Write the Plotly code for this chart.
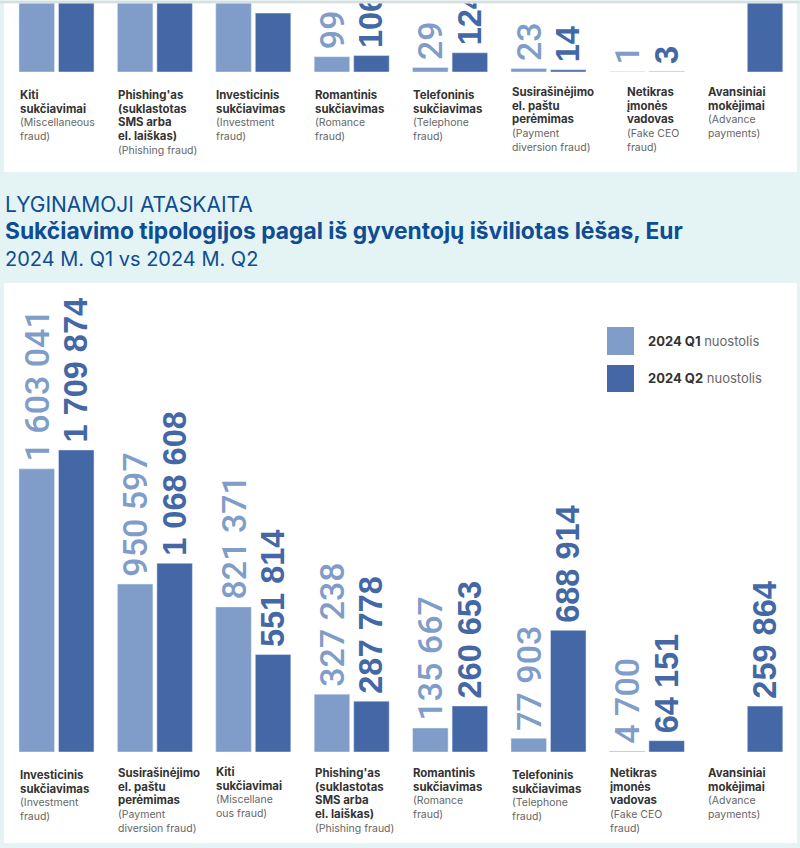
import plotly.graph_objects as go

# top panel (cropped at the top in the source picture, Q1/Q2 counts)
top_names = ["Kiti<br>sukčiavimai", "Phishing'as<br>(suklastotas<br>SMS arba<br>el. laiškas)", "Investicinis<br>sukčiavimas",
             "Romantinis<br>sukčiavimas", "Telefoninis<br>sukčiavimas", "Susirašinėjimo<br>el. paštu<br>perėmimas",
             "Netikras<br>įmonės<br>vadovas", "Avansiniai<br>mokėjimai"]
top_en = ["(Miscellaneous<br>fraud)", "(Phishing fraud)", "(Investment<br>fraud)", "(Romance<br>fraud)",
          "(Telephone<br>fraud)", "(Payment<br>diversion fraud)", "(Fake CEO<br>fraud)", "(Advance<br>payments)"]
top_q1 = [620, 560, 500, 99, 29, 23, 1, None]
top_q2 = [590, 540, 380, 106, 124, 14, 3, 470]
# labels of the tallest top bars are cropped away in the source
TOP_LABEL_LIMIT = 300

# bottom panel, Eur
bot_names = ["Investicinis<br>sukčiavimas", "Susirašinėjimo<br>el. paštu<br>perėmimas", "Kiti<br>sukčiavimai",
             "Phishing'as<br>(suklastotas<br>SMS arba<br>el. laiškas)", "Romantinis<br>sukčiavimas", "Telefoninis<br>sukčiavimas",
             "Netikras<br>įmonės<br>vadovas", "Avansiniai<br>mokėjimai"]
bot_en = ["(Investment<br>fraud)", "(Payment<br>diversion fraud)", "(Miscellane<br>ous fraud)", "(Phishing fraud)",
          "(Romance<br>fraud)", "(Telephone<br>fraud)", "(Fake CEO<br>fraud)", "(Advance<br>payments)"]
bot_q1 = [1603041, 950597, 821371, 327238, 135667, 77903, 4700, None]
bot_q2 = [1709874, 1068608, 551814, 287778, 260653, 688914, 64151, 259864]

series_names = ["2024 Q1", "2024 Q2"]

Q1_COLOR = "#7F9DC8"
Q2_COLOR = "#4467A5"
TEAL = "#E4F4F5"
TITLE_BLUE = "#0F4C92"
W, H = 800, 848
# transparent dot before each number: rotated text starts at the bar, this keeps it a bit off
LABEL_PAD = '<span style="font-size:16px;color:rgba(0,0,0,0)">.</span>'


def py(px):
    return 1 - px / H


def fmt(values, limit=None):
    out = []
    for v in values:
        if v is None or (limit is not None and v > limit):
            out.append("")
        else:
            out.append(LABEL_PAD + f"{v:,}".replace(",", " "))
    return out


fig = go.Figure()
for names, q1, q2, xa, ya, limit in [(top_names, top_q1, top_q2, "x", "y", TOP_LABEL_LIMIT), (bot_names, bot_q1, bot_q2, "x2", "y2", None)]:
    fig.add_bar(x=names, y=q1, name=series_names[0], xaxis=xa, yaxis=ya, marker_color=Q1_COLOR,
                text=fmt(q1, limit), textposition="outside", textangle=-90, constraintext="none", cliponaxis=True,
                textfont=dict(family="Roboto", size=34, color=Q1_COLOR, weight=500), offsetgroup="q1")
    fig.add_bar(x=names, y=q2, name=series_names[1], xaxis=xa, yaxis=ya, marker_color=Q2_COLOR,
                text=fmt(q2, limit), textposition="outside", textangle=-90, constraintext="none", cliponaxis=True,
                textfont=dict(family="Liberation Sans", size=32.5, color=Q2_COLOR, weight="bold"), offsetgroup="q2")

x_range = [-56.5 / 98.4, (W - 56.5) / 98.4]
common_x = dict(range=x_range, type="category", showticklabels=False, showgrid=False, zeroline=False, showline=False, ticks="")
common_y = dict(showticklabels=False, showgrid=False, zeroline=False, showline=False, ticks="")

shapes = [
    dict(type="rect", xref="paper", yref="paper", x0=0, x1=1, y0=py(3.5), y1=py(1), fillcolor="#DDDDDD", line_width=0, layer="below"),
    dict(type="rect", xref="paper", yref="paper", x0=4 / W, x1=797 / W, y0=py(172), y1=py(3.5), fillcolor="white", line_width=0, layer="below"),
    dict(type="rect", xref="paper", yref="paper", x0=4 / W, x1=797 / W, y0=py(843), y1=py(283), fillcolor="white", line_width=0, layer="below"),
    dict(type="rect", xref="paper", yref="paper", x0=607 / W, x1=634 / W, y0=py(355), y1=py(327), fillcolor=Q1_COLOR, line_width=0),
    dict(type="rect", xref="paper", yref="paper", x0=607 / W, x1=634 / W, y0=py(392), y1=py(365), fillcolor=Q2_COLOR, line_width=0),
]

annotations = []


def add_text(text, x_px, y_px, size, color, family="Inter"):
    annotations.append(dict(text=text, xref="paper", yref="paper", x=x_px / W, y=py(y_px), xanchor="left", yanchor="middle",
                            align="left", showarrow=False, borderpad=0, font=dict(family=family, size=size, color=color)))


def add_labels(names, en, xref, tops, shifts):
    for i, (name, eng) in enumerate(zip(names, en)):
        annotations.append(dict(text=f'<span style="font-size:11.4px"><b>{name}</b></span><br><span style="color:#666666">{eng}</span>',
                                xref=xref, yref="paper", x=i, y=py(tops[i]), xanchor="left", yanchor="top", xshift=-38 + shifts[i],
                                align="left", showarrow=False, borderpad=0, font=dict(family="Inter", size=10.5, color="#333333")))


add_labels(top_names, top_en, "x", [87, 87, 87, 86.5, 87, 84, 84, 84], [0, 0, 0, 0, 0, 0, 17, 0])
add_labels(bot_names, bot_en, "x2", [767, 765, 764, 765, 765, 767, 765, 765], [0, 0, 0, 0, 0, 0, 0, 0])

add_text("LYGINAMOJI ATASKAITA", 4, 204, 21, TITLE_BLUE)
add_text("<b>Sukčiavimo tipologijos pagal iš gyventojų išviliotas lėšas, Eur</b>", 4, 231, 22.8, TITLE_BLUE)
add_text("2024 M. Q1 vs 2024 M. Q2", 4, 259, 20, TITLE_BLUE)
add_text('<b>2024 Q1</b> <span style="color:#666666">nuostolis</span>', 647, 341, 13, "#333333")
add_text('<b>2024 Q2</b> <span style="color:#666666">nuostolis</span>', 647, 378, 13, "#333333")

fig.update_layout(
    width=W, height=H, margin=dict(l=0, r=0, t=0, b=0), paper_bgcolor=TEAL, plot_bgcolor="rgba(0,0,0,0)",
    showlegend=False, barmode="group", bargap=0.197, bargroupgap=0.101,
    xaxis=dict(common_x, domain=[0, 1], anchor="y"),
    yaxis=dict(common_y, domain=[py(72), py(3.5)], range=[0, 442], anchor="x"),
    xaxis2=dict(common_x, domain=[0, 1], anchor="y2"),
    yaxis2=dict(common_y, domain=[py(752), py(285)], range=[0, 2644000], anchor="x2"),
    shapes=shapes, annotations=annotations,
)

# page has a default 8px body margin, drop it so the figure fills the window
fig.write_html("out.html", config={"displayModeBar": False}, post_script="document.body.style.margin='0';")
